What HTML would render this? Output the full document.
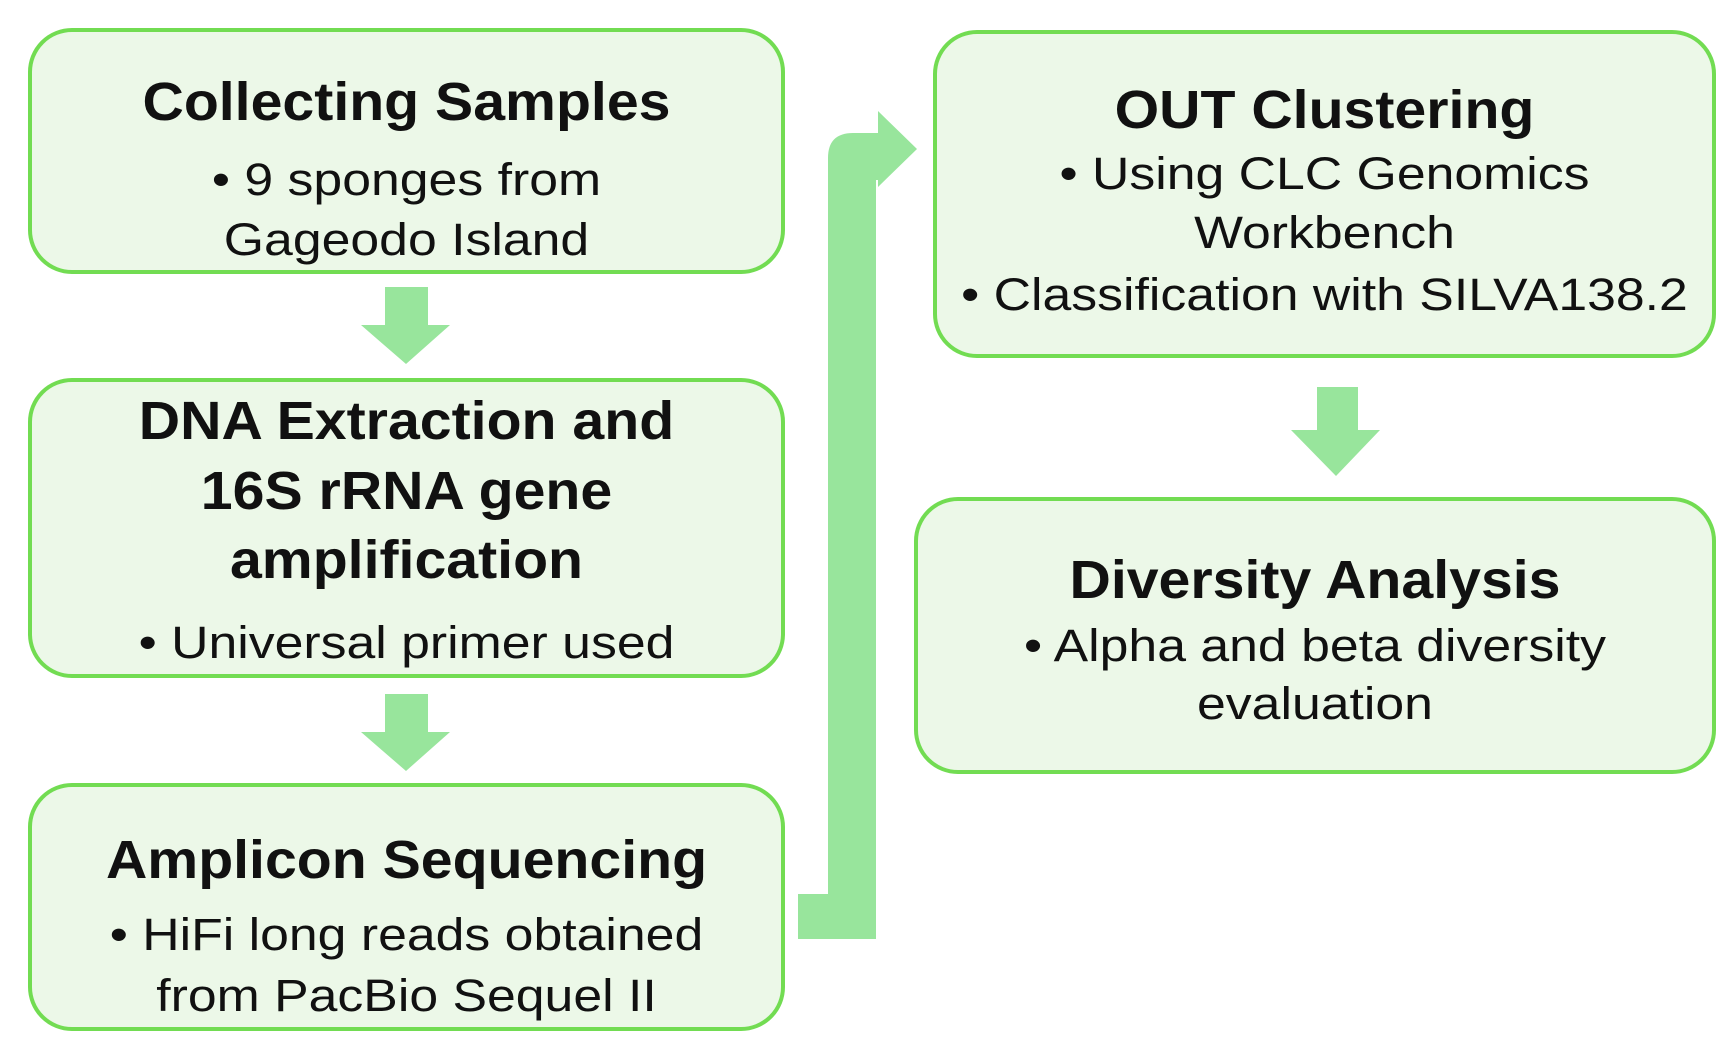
<!DOCTYPE html>
<html><head><meta charset="utf-8"><style>
body{margin:0;width:1735px;height:1052px;background:#fff;position:relative;overflow:hidden;font-family:"Liberation Sans",sans-serif;color:#111}
.b{position:absolute;background:#ecf8e8;border:4px solid #72dc52;border-radius:44px;box-sizing:border-box}
.t{position:absolute;left:0;width:100%;text-align:center;white-space:nowrap}
.h{font-weight:bold;font-size:54px;transform:translateY(-50%) scaleX(1.06)}
.s{font-size:45px;transform:translateY(-50%) scaleX(1.15)}
</style></head><body>
<svg width="1735" height="1052" style="position:absolute;left:0;top:0">
<g fill="#98e59c">
<rect x="385" y="287" width="43" height="40"/><polygon points="361,325 450,325 406,364"/>
<rect x="385" y="694" width="43" height="40"/><polygon points="361,732 450,732 406,771"/>
<rect x="1317" y="387" width="41" height="45"/><polygon points="1291,430 1380,430 1336,476"/>
<path d="M798,894 H828 V158 Q828,133 853,133 H878 V111 L917,149 L878,187 V180 H876 V939 H798 Z"/>
</g></svg>
<div class="b" style="left:28px;top:28px;width:757px;height:246px">
<div class="t h" style="top:70px">Collecting Samples</div>
<div class="t s" style="top:148px">• 9 sponges from</div>
<div class="t s" style="top:208px">Gageodo Island</div></div>
<div class="b" style="left:28px;top:378px;width:757px;height:300px">
<div class="t h" style="top:39px">DNA Extraction and</div>
<div class="t h" style="top:109px">16S rRNA gene</div>
<div class="t h" style="top:178px">amplification</div>
<div class="t s" style="top:261px">• Universal primer used</div></div>
<div class="b" style="left:28px;top:783px;width:757px;height:248px">
<div class="t h" style="top:73px">Amplicon Sequencing</div>
<div class="t s" style="top:148px">• HiFi long reads obtained</div>
<div class="t s" style="top:209px">from PacBio Sequel II</div></div>
<div class="b" style="left:933px;top:30px;width:783px;height:328px">
<div class="t h" style="top:76px">OUT Clustering</div>
<div class="t s" style="top:140px">• Using CLC Genomics</div>
<div class="t s" style="top:199px">Workbench</div>
<div class="t s" style="top:261px">• Classification with SILVA138.2</div></div>
<div class="b" style="left:914px;top:497px;width:802px;height:277px">
<div class="t h" style="top:79px">Diversity Analysis</div>
<div class="t s" style="top:145px">• Alpha and beta diversity</div>
<div class="t s" style="top:203px">evaluation</div></div>
</body></html>
